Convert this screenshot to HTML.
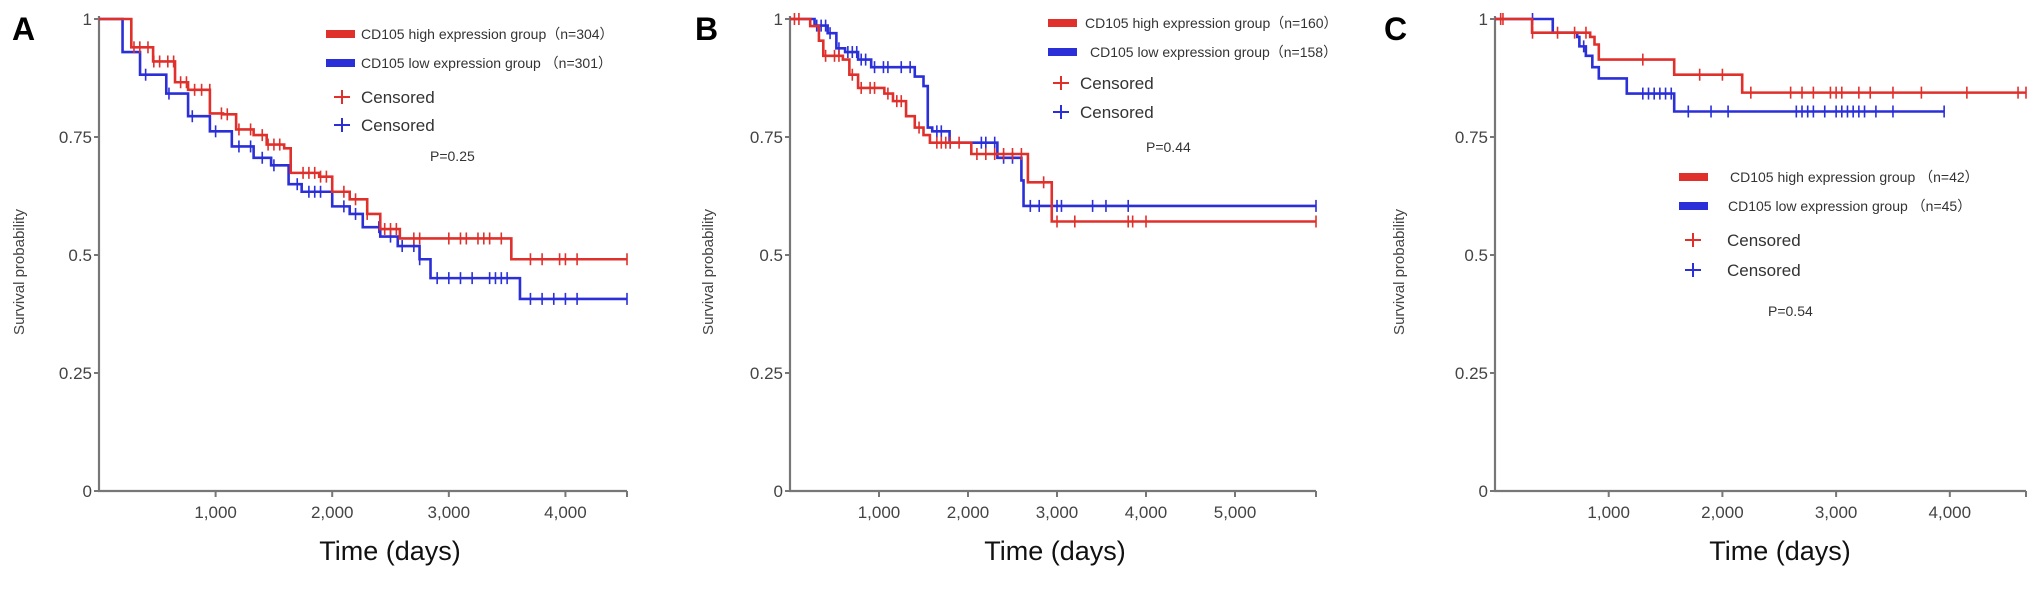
<!DOCTYPE html>
<html><head><meta charset="utf-8"><style>
html,body{margin:0;padding:0;background:#fff;}
svg{display:block;font-family:"Liberation Sans",sans-serif;}
</style></head><body>
<svg id="fig" width="2031" height="591" viewBox="0 0 2031 591" xmlns="http://www.w3.org/2000/svg"></svg>
<script>
// Panel A data
const aHighT=[0,277,464,652,764,951,1064,1176,1326,1438,1588,1644,1888,2000,2150,2300,2412,2580,3536];
const aHighS=[1,0.94,0.91,0.866,0.85,0.80,0.798,0.766,0.754,0.734,0.726,0.674,0.666,0.634,0.618,0.587,0.555,0.535,0.491];
const aHighC=[300,350,420,470,520,590,640,700,750,820,880,950,1050,1100,1200,1300,1400,1450,1500,1550,1750,1800,1850,1900,1950,2100,2200,2300,2450,2500,2550,2700,2750,3000,3100,3150,3250,3300,3350,3450,3700,3800,3950,4000,4100,4528];
const aLowT=[0,202,352,577,764,951,1139,1326,1476,1626,1738,2000,2150,2262,2412,2562,2749,2843,3610];
const aLowS=[1,0.93,0.882,0.842,0.794,0.762,0.73,0.706,0.69,0.65,0.634,0.603,0.587,0.559,0.539,0.519,0.491,0.451,0.407];
const aLowC=[400,600,800,1000,1200,1300,1400,1500,1700,1800,1850,1900,2100,2200,2400,2500,2600,2700,2750,2900,3000,3100,3200,3350,3400,3450,3500,3700,3800,3900,4000,4100,4528];
// Panel B data
const bHighT=[0,227,325,374,594,667,765,1060,1157,1304,1402,1500,1572,2037,2673,2941];
const bHighS=[1,0.985,0.954,0.922,0.914,0.882,0.854,0.842,0.826,0.794,0.770,0.754,0.738,0.714,0.654,0.571];
const bHighC=[50,100,400,500,550,700,800,900,950,1100,1200,1250,1450,1650,1700,1750,1800,1900,2100,2200,2300,2400,2500,2600,2850,3000,3200,3800,3850,4000,5910];
const bLowT=[0,276,423,521,619,765,912,1402,1500,1548,1598,1793,2330,2600,2624];
const bLowS=[1,0.986,0.970,0.938,0.930,0.914,0.898,0.878,0.858,0.770,0.762,0.738,0.706,0.658,0.604];
const bLowC=[300,350,400,450,550,650,700,750,800,850,950,1050,1100,1250,1350,1650,1700,1800,2150,2200,2300,2400,2500,2700,2800,3000,3050,3400,3550,3800,5910];
// Panel C data
const cHighT=[0,326,837,875,913,1576,2174];
const cHighS=[1,0.971,0.962,0.946,0.914,0.882,0.844];
const cHighC=[50,70,330,550,700,800,1300,1800,2000,2250,2600,2700,2800,2950,3000,3050,3200,3300,3500,3750,4150,4600,4670];
const cLowT=[0,508,723,742,799,856,913,1159,1576];
const cLowS=[1,0.971,0.962,0.942,0.922,0.898,0.874,0.842,0.804];
const cLowC=[330,780,1300,1350,1400,1450,1500,1550,1700,1900,2050,2650,2700,2750,2800,2900,3000,3050,3100,3150,3200,3250,3350,3500,3950];
const yTicks=[0,0.25,0.5,0.75,1];
const yTickLabels=["0","0.25","0.5","0.75","1"];
const aXTicks=[1000,2000,3000,4000];
const bXTicks=[1000,2000,3000,4000,5000];
const cXTicks=[1000,2000,3000,4000];
const RED="#e0302c", BLUE="#2a2fd8";
const NS="http://www.w3.org/2000/svg";
const svg=document.getElementById('fig');
function mk(tag,attrs,parent){const e=document.createElementNS(NS,tag);for(const k in attrs)e.setAttribute(k,attrs[k]);(parent||svg).appendChild(e);return e;}
function txt(s,attrs,parent){const e=mk('text',attrs,parent);e.textContent=s;return e;}

function panel(cfg){
  const g=mk('g',{});
  
  
  const X=t=>cfg.x0+(t-0)/cfg.tmax*(cfg.x1-cfg.x0);
  const Y=s=>cfg.y0-(s)*(cfg.y0-cfg.y1);
  const L=txt(cfg.id,{x:cfg.lx,y:40,'font-size':32,'font-weight':'bold',fill:'#000'},g);
  
  
  // axes
  const ax=mk('path',{d:`M${cfg.x0} ${Y(1)-3} V${cfg.y0} H${cfg.x1}`,stroke:'#777',fill:'none','stroke-width':2.2},g);
  
  
  yTicks.forEach((v,i)=>{
    mk('line',{x1:cfg.x0-5,x2:cfg.x0,y1:Y(v),y2:Y(v),stroke:'#777','stroke-width':2},g);
    const t=txt(yTickLabels[i],{x:cfg.x0-7,y:Y(v)+6,'font-size':17,'text-anchor':'end',fill:'#444'},g);
    
    
  });
  cfg.xticks.concat([cfg.tmax]).forEach(v=>{
    mk('line',{x1:X(v),x2:X(v),y1:cfg.y0,y2:cfg.y0+6,stroke:'#777','stroke-width':2},g);
  });
  cfg.xticks.forEach(v=>{
    const t=txt(v.toLocaleString('en-US'),{x:X(v),y:cfg.y0+27,'font-size':17,'text-anchor':'middle',fill:'#444'},g);
    
    
  });
  const xt=txt('Time (days)',{x:cfg.xtx,y:560,'font-size':27,'text-anchor':'middle',fill:'#111'},g);
  
  
  const yl=txt('Survival probability',{x:0,y:0,'font-size':15,'text-anchor':'middle',fill:'#444',transform:`translate(${cfg.ytx},272) rotate(-90)`},g);
  
  
  function series(T,S,C,end,color,name){
    let d=`M${X(T[0])} ${Y(S[0])}`;
    for(let i=1;i<T.length;i++){d+=` H${X(T[i])} V${Y(S[i])}`;}
    d+=` H${X(end)}`;
    const p=mk('path',{d:d,stroke:color,fill:'none','stroke-width':2.6},g);
    
    
    C.forEach(c=>{
      let s=S[0];for(let i=0;i<T.length;i++){if(T[i]<=c)s=S[i];}
      const m=mk('line',{x1:X(c),x2:X(c),y1:Y(s)-6,y2:Y(s)+6,stroke:color,'stroke-width':1.6},g);
      
      
    });
  }
  series(cfg.lowT,cfg.lowS,cfg.lowC,cfg.lowEnd,BLUE,'low-expression');
  series(cfg.highT,cfg.highS,cfg.highC,cfg.highEnd,RED,'high-expression');
  // legend
  const lg=cfg.leg;
  const leg=mk('g',{},g);
  
  
  [[RED,lg.hiY,lg.hiText,lg.tx1],[BLUE,lg.loY,lg.loText,lg.tx2]].forEach(r=>{
    mk('rect',{x:lg.sx,y:r[1]-4,width:lg.sw,height:8,fill:r[0]},leg);
    const t=txt(r[2],{x:r[3],y:r[1]+5,'font-size':14,fill:'#333','font-family':'"Liberation Sans Narrow","Liberation Sans",sans-serif'},leg);
    
    
  });
  [[RED,lg.c1Y],[BLUE,lg.c2Y]].forEach(r=>{
    mk('path',{d:`M${lg.cx-8} ${r[1]} H${lg.cx+8} M${lg.cx} ${r[1]-7} V${r[1]+7}`,stroke:r[0],'stroke-width':2},leg);
    const t=txt('Censored',{x:lg.ctx,y:r[1]+6,'font-size':17,fill:'#333'},leg);
    
    
  });
  const pv=txt(cfg.p,{x:lg.px,y:lg.py+5,'font-size':14,fill:'#333','font-family':'"Liberation Sans Narrow","Liberation Sans",sans-serif'},g);
  
  
}
panel({id:'A',lx:12,x0:99,x1:627,y0:491,y1:19,tmax:4528,xticks:aXTicks,xtx:390,ytx:24,
  highT:aHighT,highS:aHighS,highC:aHighC,highEnd:4528,lowT:aLowT,lowS:aLowS,lowC:aLowC,lowEnd:4528,p:'P=0.25',
  leg:{sx:326,sw:29,hiY:34,loY:63,tx1:361,tx2:361,hiText:'CD105 high expression group（n=304）',loText:'CD105 low expression group  （n=301）',cx:342,c1Y:97,c2Y:125,ctx:361,px:430,py:156}});
panel({id:'B',lx:695,x0:790,x1:1316,y0:491,y1:19,tmax:5910,xticks:bXTicks,xtx:1055,ytx:713,
  highT:bHighT,highS:bHighS,highC:bHighC,highEnd:5910,lowT:bLowT,lowS:bLowS,lowC:bLowC,lowEnd:5910,p:'P=0.44',
  leg:{sx:1048,sw:29,hiY:23,loY:52,tx1:1085,tx2:1090,hiText:'CD105 high expression group（n=160）',loText:'CD105 low expression group（n=158）',cx:1061,c1Y:83,c2Y:112,ctx:1080,px:1146,py:147}});
panel({id:'C',lx:1384,x0:1495,x1:2026,y0:491,y1:19,tmax:4670,xticks:cXTicks,xtx:1780,ytx:1404,
  highT:cHighT,highS:cHighS,highC:cHighC,highEnd:4670,lowT:cLowT,lowS:cLowS,lowC:cLowC,lowEnd:3950,p:'P=0.54',
  leg:{sx:1679,sw:29,hiY:177,loY:206,tx1:1730,tx2:1728,hiText:'CD105 high expression group  （n=42）',loText:'CD105 low expression group  （n=45）',cx:1693,c1Y:240,c2Y:270,ctx:1727,px:1768,py:311}});
</script>
</body></html>
